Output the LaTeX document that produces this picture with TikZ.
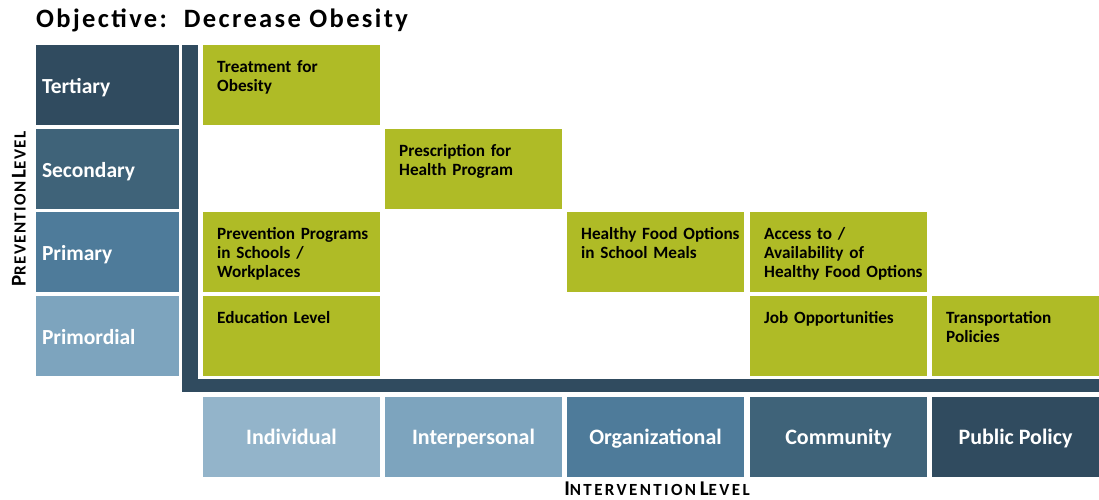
\documentclass[tikz,border=0pt]{standalone}
\usepackage{fontspec}
\setmainfont{Carlito}
\newfontfamily\titlefont[LetterSpace=9]{Carlito}
\newfontfamily\prevfont[LetterSpace=8]{Carlito}
\newfontfamily\intfont[LetterSpace=14]{Carlito}
\definecolor{cdarkA}{HTML}{304B5F}
\definecolor{cdarkB}{HTML}{3F6379}
\definecolor{cmid}{HTML}{4E7B9A}
\definecolor{clight}{HTML}{7DA4BE}
\definecolor{clighter}{HTML}{93B4CA}
\definecolor{cgreen}{HTML}{AFBB26}
\newcommand{\axcap}[1]{{\fontsize{21}{21}\selectfont #1}}
\newcommand{\axsm}[1]{{\fontsize{17}{17}\selectfont #1}}
\begin{document}
\begin{tikzpicture}[x=1pt,y=-1pt,
  box/.style={anchor=north west, minimum width=177pt, minimum height=80pt, inner sep=0pt, outer sep=0pt, draw=none},
  lastbox/.style={box, minimum width=167pt},
  greenbox/.style={fill=cgreen},
  gtext/.style={anchor=base west, inner sep=0pt, text width=165pt, align=left, font=\fontsize{17.2}{19}\selectfont\bfseries, text=black},
  rowlab/.style={anchor=north west, text width=131pt, inner xsep=6pt, inner ysep=0pt, outer sep=0pt, minimum height=80pt, text height=16pt, text depth=0pt, align=left, text=white, font=\fontsize{21.5}{24}\selectfont\bfseries},
  collab/.style={box, text height=15pt, text depth=0pt, text=white, font=\fontsize{22}{24}\selectfont\bfseries},
  axbar/.style={fill=cdarkA, draw=none}
]
\useasboundingbox (0,0) rectangle (1099,499);

% title
\node[anchor=base west, inner sep=0pt, font=\titlefont\fontsize{26.5}{30}\selectfont\bfseries] (title) at (36,27.5) {Objective:\ \ Decrease Obesity};

% row labels
\node[rowlab, fill=cdarkA] (tert) at (36,45) {Tertiary};
\node[rowlab, fill=cdarkB] (sec) at (36,129) {Secondary};
\node[rowlab, fill=cmid] (prim) at (36,212) {Primary};
\node[rowlab, fill=clight] (primo) at (36,296) {Primordial};

% axis bars
\path[axbar] (182,45) rectangle (198,392);
\path[axbar] (182,379) rectangle (1099,392);

% column labels
\node[collab, fill=clighter] (ind) at (203,397) {Individual};
\node[collab, fill=clight] (inter) at (385,397) {Interpersonal};
\node[collab, fill=cmid] (org) at (567,397) {Organizational};
\node[collab, fill=cdarkB] (com) at (750,397) {Community};
\node[collab, fill=cdarkA, minimum width=167pt] (pol) at (932,397) {Public Policy};

% green cells
\node[box, greenbox] (g11) at (203,45) {};
\node[gtext] (t11) at ([shift={(14,27)}]g11.north west) {Treatment for\\Obesity};

\node[box, greenbox] (g22) at (385,129) {};
\node[gtext] (t22) at ([shift={(14,27)}]g22.north west) {Prescription for\\Health Program};

\node[box, greenbox] (g31) at (203,212) {};
\node[gtext] (t31) at ([shift={(14,27)}]g31.north west) {Prevention Programs\\in Schools /\\Workplaces};

\node[box, greenbox] (g33) at (567,212) {};
\node[gtext] (t33) at ([shift={(14,27)}]g33.north west) {Healthy Food Options\\in School Meals};

\node[box, greenbox] (g34) at (750,212) {};
\node[gtext] (t34) at ([shift={(14,27)}]g34.north west) {Access to /\\Availability of\\Healthy Food Options};

\node[box, greenbox] (g41) at (203,296) {};
\node[gtext] (t41) at ([shift={(14,27)}]g41.north west) {Education Level};

\node[box, greenbox] (g44) at (750,296) {};
\node[gtext] (t44) at ([shift={(14,27)}]g44.north west) {Job Opportunities};

\node[lastbox, greenbox] (g45) at (932,296) {};
\node[gtext] (t45) at ([shift={(14,27)}]g45.north west) {Transportation\\Policies};

% axis titles
\node[anchor=base, inner sep=0pt, rotate=90, font=\prevfont\bfseries] (prevlab) at (25.5,209) {\axcap{P}\axsm{REVENTION} \axcap{L}\axsm{EVEL}};
\node[anchor=base, inner sep=0pt, font=\intfont\bfseries] (intlab) at (657,495) {\axcap{I}\axsm{NTERVENTION} \axcap{L}\axsm{EVEL}};
\end{tikzpicture}
\end{document}
